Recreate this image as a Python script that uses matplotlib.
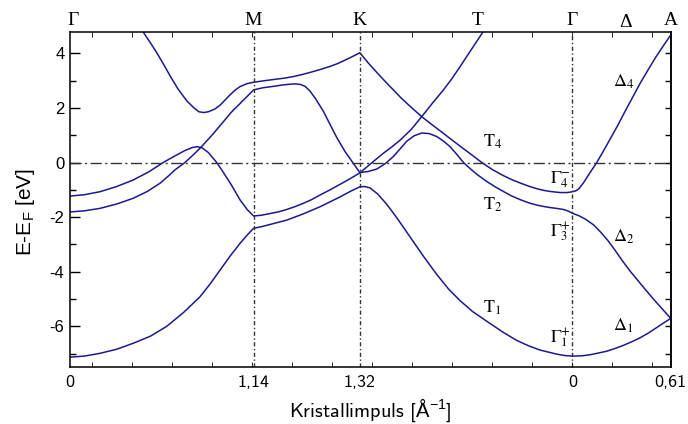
import numpy as np
import matplotlib
matplotlib.use("Agg")
import matplotlib.pyplot as plt
from matplotlib.transforms import blended_transform_factory

plt.rcParams["font.family"] = "Liberation Sans"
plt.rcParams["axes.unicode_minus"] = False
plt.rcParams["mathtext.fontset"] = "cm"
plt.rcParams["mathtext.rm"] = "Liberation Sans"

# k-path Gamma-M-K-Gamma-A, cumulative length in 1/Angstrom
path_k = [0.0, 1.14, 1.80, 3.12, 3.73]
path_ticklabels = ["0", "1,14", "1,32", "0", "0,61"]
path_points = ["Γ", "M", "K", "T", "Γ", "Δ", "A"]
path_points_k = [0.02, 1.14, 1.80, 2.53, 3.12, 3.45, 3.73]

# bands, E - E_F in eV
band1_k = [0, 0.09, 0.186, 0.29, 0.393, 0.50, 0.601, 0.704, 0.807, 0.87, 0.932, 0.994,
           1.056, 1.10, 1.14,
           1.19, 1.242, 1.346, 1.449, 1.553, 1.677, 1.74, 1.80,
           1.83, 1.863, 1.91, 1.967, 2.03, 2.091, 2.14, 2.193, 2.24, 2.28, 2.35, 2.422,
           2.50, 2.609, 2.69, 2.775, 2.85, 2.919, 3.023, 3.07, 3.12,
           3.18, 3.23, 3.28, 3.334, 3.385, 3.435, 3.49, 3.54, 3.59, 3.634, 3.68, 3.73]
band1_E = [-7.13, -7.09, -6.99, -6.84, -6.62, -6.36, -6.00, -5.50, -4.92, -4.45, -3.94, -3.43,
           -2.96, -2.66, -2.41,
           -2.35, -2.27, -2.11, -1.88, -1.62, -1.26, -1.06, -0.89,
           -0.88, -0.93, -1.15, -1.53, -2.03, -2.55, -2.97, -3.42, -3.80, -4.12, -4.63, -5.06,
           -5.46, -5.90, -6.22, -6.52, -6.72, -6.87, -7.02, -7.07, -7.09,
           -7.08, -7.04, -6.98, -6.91, -6.81, -6.70, -6.56, -6.42, -6.25, -6.08, -5.90, -5.71]

band2_k = [0, 0.09, 0.186, 0.29, 0.393, 0.49, 0.579, 0.642, 0.714, 0.76, 0.79, 0.82, 0.86,
           0.911, 0.942, 1.0, 1.056, 1.10, 1.14,
           1.19, 1.242, 1.30, 1.346, 1.40, 1.447, 1.50, 1.553, 1.615, 1.677, 1.74, 1.80,
           1.87, 1.946, 2.0, 2.05, 2.12, 2.184, 2.25, 2.319, 2.37, 2.422, 2.49, 2.563, 2.60]
band2_E = [-1.23, -1.18, -1.07, -0.88, -0.64, -0.34, 0.0, 0.21, 0.44, 0.55, 0.58, 0.54, 0.36,
           0.0, -0.27, -0.80, -1.37, -1.72, -1.96,
           -1.93, -1.87, -1.80, -1.72, -1.61, -1.50, -1.36, -1.19, -1.00, -0.80, -0.59, -0.38,
           -0.03, 0.34, 0.58, 0.82, 1.22, 1.68, 2.17, 2.66, 3.06, 3.51, 4.12, 4.77, 5.10]

band3_k = [0, 0.09, 0.186, 0.29, 0.393, 0.48, 0.559, 0.61, 0.652, 0.714, 0.76, 0.807, 0.88,
           0.952, 1.0, 1.056, 1.10, 1.14,
           1.20, 1.264, 1.32, 1.37, 1.40, 1.43, 1.46, 1.49, 1.522, 1.55, 1.573, 1.61, 1.656,
           1.708, 1.759, 1.80,
           1.85, 1.905, 1.96, 2.008, 2.05, 2.091, 2.137, 2.184, 2.23, 2.278, 2.32, 2.36, 2.40,
           2.443, 2.484, 2.53, 2.584, 2.64, 2.691, 2.74, 2.795, 2.85, 2.899, 2.94, 2.981,
           3.02, 3.064, 3.09, 3.12,
           3.16, 3.199, 3.25, 3.292, 3.34, 3.385, 3.43, 3.478, 3.53, 3.582, 3.63, 3.68, 3.73]
band3_E = [-1.81, -1.77, -1.68, -1.52, -1.31, -1.06, -0.76, -0.50, -0.27, 0.0, 0.25, 0.52, 0.99,
           1.49, 1.83, 2.16, 2.42, 2.66,
           2.74, 2.79, 2.84, 2.87, 2.88, 2.86, 2.79, 2.62, 2.36, 2.10, 1.88, 1.45, 0.92,
           0.40, -0.03, -0.37,
           -0.33, -0.24, -0.03, 0.22, 0.50, 0.78, 0.98, 1.08, 1.06, 0.95, 0.78, 0.58, 0.31,
           0.0, -0.22, -0.45, -0.68, -0.89, -1.06, -1.22, -1.36, -1.48, -1.56, -1.61, -1.65,
           -1.68, -1.72, -1.77, -1.86,
           -1.95, -2.07, -2.28, -2.53, -2.86, -3.22, -3.60, -3.98, -4.35, -4.72, -5.05, -5.38, -5.71]

band4_k = [0.441, 0.460, 0.50, 0.539, 0.58, 0.621, 0.67, 0.725, 0.77, 0.80, 0.83, 0.86, 0.90,
           0.932, 0.96, 0.994, 1.025, 1.056, 1.10, 1.14,
           1.20, 1.264, 1.33, 1.388, 1.44, 1.491, 1.55, 1.615, 1.66, 1.708, 1.75, 1.80,
           1.85, 1.905, 1.96, 2.008, 2.05, 2.093, 2.14, 2.184, 2.24, 2.298, 2.36, 2.422,
           2.49, 2.557, 2.62, 2.691, 2.74, 2.795, 2.85, 2.899, 2.94, 2.981, 3.043, 3.087, 3.12,
           3.14, 3.16, 3.19, 3.23, 3.271, 3.31, 3.354, 3.40, 3.447, 3.49, 3.54, 3.59, 3.634,
           3.68, 3.73]
band4_E = [5.0, 4.73, 4.38, 4.02, 3.61, 3.18, 2.70, 2.26, 2.0, 1.86, 1.83, 1.86, 1.96,
           2.10, 2.27, 2.48, 2.65, 2.78, 2.89, 2.94,
           2.99, 3.04, 3.09, 3.15, 3.22, 3.30, 3.40, 3.52, 3.62, 3.75, 3.87, 4.02,
           3.66, 3.30, 2.95, 2.66, 2.40, 2.16, 1.91, 1.68, 1.42, 1.16, 0.88, 0.60,
           0.30, 0.0, -0.25, -0.48, -0.62, -0.75, -0.87, -0.96, -1.02, -1.06, -1.10, -1.10, -1.07,
           -1.04, -0.96, -0.73, -0.36, 0.0, 0.40, 0.86, 1.35, 1.88, 2.35, 2.90, 3.40, 3.83,
           4.24, 4.67]

# symmetry labels of the bands: (text, k, E)
band_labels = [
    (r"$\mathrm{T}_4$", 2.565, 0.57),
    (r"$\mathrm{T}_2$", 2.565, -1.74),
    (r"$\mathrm{T}_1$", 2.565, -5.51),
    (r"$\mathrm{\Gamma}_4^{-}$", 2.98, -0.75),
    (r"$\mathrm{\Gamma}_3^{+}$", 2.98, -2.73),
    (r"$\mathrm{\Gamma}_1^{+}$", 2.98, -6.58),
    (r"$\mathrm{\Delta}_4$", 3.373, 2.77),
    (r"$\mathrm{\Delta}_2$", 3.373, -2.91),
    (r"$\mathrm{\Delta}_1$", 3.373, -6.14),
]

BAND_COLOR = "#1a1a8e"
REF_COLOR = "#333333"
SANS_TEX = ["cmss10", "DejaVu Sans"]

fig = plt.figure(figsize=(6.88, 4.24), dpi=100)
ax = fig.add_axes([0.1017, 0.1351, 0.8732, 0.7894])

for k, E in [(band1_k, band1_E), (band2_k, band2_E), (band3_k, band3_E), (band4_k, band4_E)]:
    ax.plot(k, E, color=BAND_COLOR, lw=1.1, solid_joinstyle="round")

ax.axhline(0, color=REF_COLOR, lw=1.0, dashes=(8, 2.5, 1.5, 2.5))
for kx in path_k[1:4]:
    ax.axvline(kx, color=REF_COLOR, lw=1.0, dashes=(3, 1.8, 1, 1.8))

ax.set_xlim(0, 3.73)
ax.set_ylim(-7.48, 4.78)

ax.set_xticks(path_k, labels=path_ticklabels)
for lbl in ax.get_xticklabels():
    lbl.set_family(SANS_TEX)
ax.set_xticks(0.135 + 0.2484 * np.arange(15), minor=True)
ax.tick_params(axis="x", which="major", length=0, pad=6, labelsize=13)
ax.tick_params(axis="x", which="minor", direction="in", length=3.5, top=True, bottom=True)

ax.set_yticks([-6, -4, -2, 0, 2, 4])
ax.set_yticks([-7, -5, -3, -1, 1, 3], minor=True)
ax.tick_params(axis="y", which="major", direction="in", length=7, width=1, labelsize=12, pad=4)
ax.tick_params(axis="y", which="minor", direction="in", length=4, width=1)

right = ax.secondary_yaxis("right")
right.set_yticks(list(range(-7, 5)))
right.tick_params(direction="in", length=4, width=1, labelright=False)
right.spines["right"].set_linewidth(1.1)

for s in ax.spines.values():
    s.set_linewidth(1.1)

# the Angstrom sign is missing from cmss10, so it goes through mathtext
ax.set_xlabel(r"Kristallimpuls [$\mathrm{Å}^{-1}$]", fontsize=14.5, family=SANS_TEX,
              math_fontfamily="custom")
ax.xaxis.set_label_coords(0.5, -0.09)
ax.set_ylabel(r"E-E$_{\mathrm{F}}$ [eV]", fontsize=15, math_fontfamily="custom")
ax.yaxis.set_label_coords(-0.055, 0.463)

trans = blended_transform_factory(ax.transData, ax.transAxes)
for name, kx in zip(path_points, path_points_k):
    y = 1.015 if name == "Δ" else 1.021
    ax.text(kx, y, name, transform=trans, ha="center", va="baseline",
            family="Liberation Serif", fontsize=14)

for text, kx, E in band_labels:
    ax.text(kx, E, text, ha="left", va="baseline", fontsize=13, math_fontfamily="stix")

fig.savefig("out.png", dpi=100)
